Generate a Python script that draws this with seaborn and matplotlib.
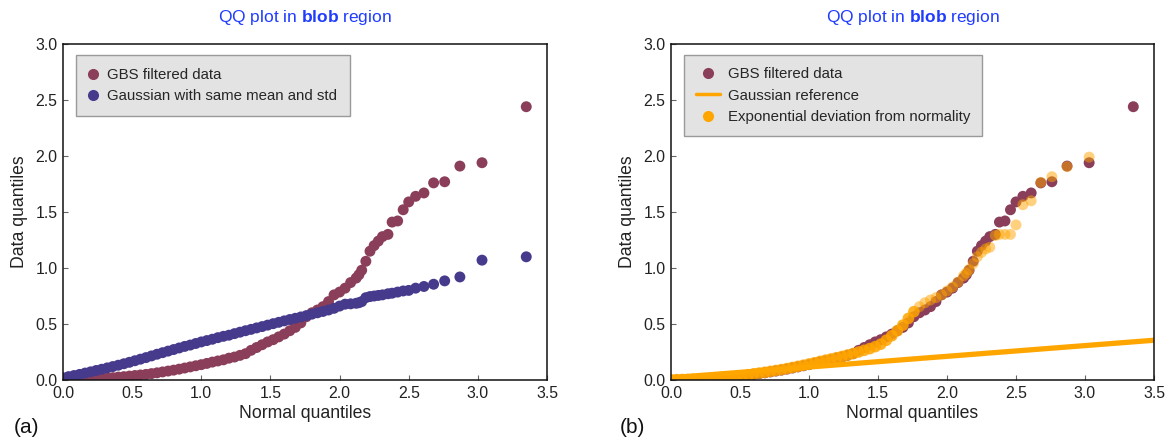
import numpy as np
import seaborn as sns
import matplotlib.pyplot as plt
from matplotlib.lines import Line2D

# Shared normal quantiles (x axis of both QQ panels)
normal_q = [0.00, 0.04, 0.08, 0.12, 0.16, 0.20, 0.24, 0.28, 0.32, 0.36,
            0.40, 0.44, 0.48, 0.52, 0.56, 0.60, 0.64, 0.68, 0.72, 0.76,
            0.80, 0.84, 0.88, 0.92, 0.96, 1.00, 1.04, 1.08, 1.12, 1.16,
            1.20, 1.24, 1.28, 1.32, 1.36, 1.40, 1.44, 1.48, 1.52, 1.56,
            1.60, 1.64, 1.68, 1.72, 1.76, 1.80, 1.84, 1.88, 1.92, 1.96,
            2.00, 2.04, 2.08, 2.12, 2.14, 2.16, 2.19, 2.22, 2.25, 2.28,
            2.31, 2.35, 2.38, 2.42, 2.46, 2.50, 2.55, 2.61, 2.68, 2.76,
            2.87, 3.03, 3.35]

# GBS filtered data quantiles
gbs_q = [0.000, 0.000, 0.000, 0.000, 0.002, 0.004, 0.008, 0.012, 0.017, 0.021,
         0.026, 0.030, 0.035, 0.040, 0.045, 0.050, 0.057, 0.064, 0.072, 0.080,
         0.088, 0.097, 0.107, 0.117, 0.127, 0.137, 0.148, 0.160, 0.170, 0.180,
         0.195, 0.205, 0.220, 0.235, 0.265, 0.290, 0.315, 0.340, 0.360, 0.385,
         0.410, 0.440, 0.470, 0.510, 0.565, 0.600, 0.625, 0.655, 0.700, 0.760,
         0.785, 0.820, 0.870, 0.910, 0.940, 0.980, 1.060, 1.150, 1.200, 1.240,
         1.280, 1.300, 1.410, 1.420, 1.520, 1.590, 1.640, 1.670, 1.760, 1.770,
         1.910, 1.940, 2.440]

# Gaussian with same mean and std
gauss_q = [0.020, 0.030, 0.040, 0.050, 0.062, 0.073, 0.085, 0.096, 0.108, 0.120,
           0.132, 0.145, 0.158, 0.172, 0.186, 0.200, 0.215, 0.230, 0.244, 0.258,
           0.272, 0.286, 0.300, 0.312, 0.326, 0.340, 0.352, 0.364, 0.378, 0.390,
           0.400, 0.414, 0.427, 0.440, 0.452, 0.465, 0.477, 0.490, 0.503, 0.515,
           0.528, 0.540, 0.551, 0.563, 0.575, 0.588, 0.600, 0.612, 0.625, 0.640,
           0.660, 0.677, 0.680, 0.685, 0.690, 0.700, 0.735, 0.745, 0.750, 0.755,
           0.760, 0.770, 0.775, 0.785, 0.795, 0.800, 0.820, 0.835, 0.855, 0.885,
           0.920, 1.070, 1.100]

# Exponential deviation from normality
expdev_q = [0.002, 0.003, 0.004, 0.005, 0.007, 0.009, 0.012, 0.015, 0.018, 0.022,
            0.026, 0.030, 0.034, 0.039, 0.046, 0.055, 0.062, 0.069, 0.077, 0.085,
            0.093, 0.102, 0.112, 0.122, 0.132, 0.143, 0.154, 0.166, 0.177, 0.188,
            0.199, 0.211, 0.223, 0.236, 0.250, 0.265, 0.280, 0.298, 0.320, 0.355,
            0.395, 0.440, 0.490, 0.550, 0.610, 0.655, 0.690, 0.715, 0.735, 0.760,
            0.795, 0.830, 0.875, 0.930, 0.955, 0.985, 1.040, 1.100, 1.140, 1.170,
            1.185, 1.290, 1.300, 1.300, 1.300, 1.385, 1.565, 1.600, 1.765, 1.815,
            1.905, 1.990, np.nan]

# Gaussian reference line end points
ref_x = [0.0, 3.5]
ref_y = [0.02, 0.355]

MAROON = "#8a3e5a"
BLUE = "#463a8c"
ORANGE = "#ffa500"
TITLE_BLUE = "#1f3cff"
DOT_SIZE = 62
DENSE_LIMIT = 1.8   # below this the original points pile up into a solid band

sns.set_style("ticks")
plt.rcParams["font.family"] = ["Liberation Sans", "DejaVu Sans"]
plt.rcParams["mathtext.fontset"] = "custom"
plt.rcParams["mathtext.rm"] = "Liberation Sans"
plt.rcParams["mathtext.bf"] = "Liberation Sans:bold"


def style_axes(ax):
    ax.set_xlim(0, 3.5)
    ax.set_ylim(0, 3.0)
    ax.set_xticks(np.arange(0, 3.51, 0.5))
    ax.set_yticks(np.arange(0, 3.01, 0.5))
    ax.xaxis.set_major_formatter(plt.FormatStrFormatter("%.1f"))
    ax.yaxis.set_major_formatter(plt.FormatStrFormatter("%.1f"))
    ax.tick_params(direction="in", length=3.5, width=0.8, color="#666666",
                   labelsize=11.4, labelcolor="#222222", pad=4)
    for sp in ax.spines.values():
        sp.set_visible(True)
        sp.set_color("#111111")
        sp.set_linewidth(1.1)
    ax.set_xlabel("Normal quantiles", fontsize=12.7, color="#222222")
    ax.set_ylabel("Data quantiles", fontsize=12.7, color="#222222")
    ax.xaxis.set_label_coords(0.5, -0.075)
    ax.yaxis.set_label_coords(-0.072, 0.5)
    ax.set_title(r"QQ plot in $\mathbf{blob}$ region", color=TITLE_BLUE,
                 fontsize=12.5, pad=16)


def dot(color, label):
    return Line2D([], [], marker="o", linestyle="", color=color,
                  markeredgecolor="none", markersize=8, label=label)


fig = plt.figure(figsize=(11.69, 4.4), dpi=100)
ax_a = fig.add_axes([63 / 1169, 60 / 440, 484 / 1169, 336 / 440])
ax_b = fig.add_axes([671 / 1169, 60 / 440, 483 / 1169, 336 / 440])

# (a) data vs gaussian with same moments
sns.scatterplot(x=normal_q, y=gbs_q, color=MAROON, s=DOT_SIZE, edgecolor="none",
                ax=ax_a, legend=False)
sns.scatterplot(x=normal_q, y=gauss_q, color=BLUE, s=DOT_SIZE, edgecolor="none",
                ax=ax_a, legend=False)
style_axes(ax_a)
leg_a = ax_a.legend(handles=[dot(MAROON, "GBS filtered data"),
                             dot(BLUE, "Gaussian with same mean and std")],
                    loc="upper left", bbox_to_anchor=(0.027, 0.967),
                    borderaxespad=0, fontsize=10.8, fancybox=False,
                    framealpha=1, facecolor="#e3e3e3", edgecolor="#9a9a9a",
                    borderpad=0.85, labelspacing=0.5, handlelength=0.6,
                    handletextpad=0.6)
leg_a.get_frame().set_linewidth(1.0)

# (b) data vs exponential deviation model
sns.scatterplot(x=normal_q, y=gbs_q, color=MAROON, s=DOT_SIZE, edgecolor="none",
                ax=ax_b, legend=False)
qx = np.array(normal_q)
qy = np.array(expdev_q)
dense = qx < DENSE_LIMIT
sns.scatterplot(x=qx[dense], y=qy[dense], color=ORANGE, s=DOT_SIZE + 8,
                edgecolor="none", alpha=0.85, ax=ax_b, legend=False)
sns.scatterplot(x=qx[~dense], y=qy[~dense], color=ORANGE, s=DOT_SIZE,
                edgecolor="none", alpha=0.5, ax=ax_b, legend=False)
sns.lineplot(x=ref_x, y=ref_y, color=ORANGE, linewidth=3.8, ax=ax_b,
             legend=False)
style_axes(ax_b)
leg_b = ax_b.legend(handles=[dot(MAROON, "GBS filtered data"),
                             Line2D([], [], color=ORANGE, linewidth=2.5,
                                    label="Gaussian reference"),
                             dot(ORANGE, "Exponential deviation from normality")],
                    loc="upper left", bbox_to_anchor=(0.027, 0.967),
                    borderaxespad=0, fontsize=10.8, fancybox=False,
                    framealpha=1, facecolor="#e3e3e3", edgecolor="#9a9a9a",
                    borderpad=0.8, labelspacing=0.5, handlelength=1.6,
                    handletextpad=0.5)
leg_b.get_frame().set_linewidth(1.0)

fig.text(14 / 1169, 1 - 427 / 440, "(a)", fontsize=15, va="center", color="#111111")
fig.text(620 / 1169, 1 - 427 / 440, "(b)", fontsize=15, va="center", color="#111111")

fig.savefig("out.png", dpi=100)
